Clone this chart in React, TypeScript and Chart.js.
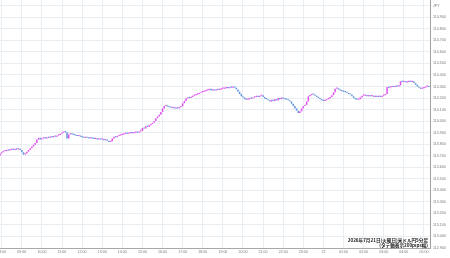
import { useEffect, useRef } from "react";
import { Chart, registerables } from "chart.js";

Chart.register(...registerables);

// time axis: minutes after 08:00 (2026-07-21), one bar = 5 minutes
const firstBarMinute = -5;
const barMinutes = 5;
const firstOpen = 113.7;

// 5-minute closes, one row per hour
const closes: number[] = [
  113.72,
  113.73, 113.74, 113.74, 113.75, 113.745, 113.75, 113.755, 113.75, 113.76, 113.755, 113.76, 113.75,
  113.73, 113.71, 113.72, 113.735, 113.75, 113.765, 113.78, 113.795, 113.81, 113.84, 113.855, 113.84,
  113.85, 113.855, 113.85, 113.86, 113.855, 113.865, 113.86, 113.87, 113.865, 113.875, 113.88, 113.89,
  113.9, 113.91, 113.905, 113.85, 113.885, 113.89, 113.885, 113.88, 113.875, 113.87, 113.875, 113.865,
  113.86, 113.855, 113.86, 113.855, 113.85, 113.855, 113.85, 113.845, 113.85, 113.84, 113.845, 113.84,
  113.845, 113.835, 113.84, 113.83, 113.82, 113.825, 113.85, 113.865, 113.86, 113.87, 113.875, 113.88,
  113.885, 113.89, 113.895, 113.89, 113.895, 113.9, 113.895, 113.9, 113.905, 113.9, 113.91, 113.915,
  113.94, 113.935, 113.955, 113.95, 113.965, 113.975, 113.985, 114.0, 114.025, 114.04, 114.055, 114.08,
  114.11, 114.13, 114.135, 114.125, 114.12, 114.115, 114.12, 114.11, 114.115, 114.11, 114.12, 114.13,
  114.155, 114.175, 114.195, 114.205, 114.2, 114.21, 114.22, 114.225, 114.23, 114.235, 114.245, 114.25,
  114.255, 114.26, 114.265, 114.27, 114.28, 114.265, 114.27, 114.265, 114.275, 114.27, 114.275, 114.28,
  114.28, 114.285, 114.29, 114.285, 114.295, 114.29, 114.295, 114.29, 114.275, 114.255, 114.235, 114.215,
  114.205, 114.19, 114.185, 114.19, 114.2, 114.195, 114.205, 114.21, 114.215, 114.21, 114.22, 114.225,
  114.21, 114.195, 114.19, 114.18, 114.17, 114.185, 114.175, 114.19, 114.18, 114.2, 114.19, 114.205,
  114.195, 114.19, 114.185, 114.18, 114.17, 114.15, 114.13, 114.11, 114.09, 114.07, 114.085, 114.11,
  114.13, 114.14, 114.17, 114.215, 114.225, 114.235, 114.23, 114.22, 114.21, 114.2, 114.19, 114.18,
  114.175, 114.18, 114.19, 114.195, 114.21, 114.225, 114.25, 114.28, 114.285, 114.275, 114.265, 114.26,
  114.255, 114.25, 114.245, 114.235, 114.23, 114.215, 114.2, 114.19, 114.185, 114.19, 114.205, 114.22,
  114.22, 114.225, 114.215, 114.22, 114.215, 114.22, 114.21, 114.215, 114.21, 114.215, 114.21, 114.22,
  114.225, 114.235, 114.295, 114.29, 114.295, 114.3, 114.295, 114.305, 114.3, 114.31, 114.345, 114.34,
  114.34, 114.335, 114.34, 114.345, 114.34, 114.345, 114.33, 114.315, 114.3, 114.29, 114.28, 114.285,
  114.29, 114.3, 114.3, 114.295,
];

const hourLabels = [
  "08:00", "09:00", "10:00", "11:00", "12:00", "13:00", "14:00", "15:00",
  "16:00", "17:00", "18:00", "19:00", "20:00", "21:00", "22:00", "23:00",
  "22", "01:00", "02:00", "03:00", "04:00", "05:00",
];

const yMin = 112.9;
const yMax = 115.05;
const yStep = 0.1;
const unitLabel = "JPY";
const noteLines = ["2026年7月21日(火曜日)米ドル円5分足", "(タテ軸表示200pips幅)"];

const UP = "#e050f0";
const DOWN = "#6394da";

export default function App() {
  const ref = useRef<HTMLCanvasElement | null>(null);

  useEffect(() => {
    document.body.style.margin = "0";
    const canvas = ref.current;
    if (!canvas) return;
    const opens = closes.map((c, i) => (i === 0 ? firstOpen : closes[i - 1]));
    const bodies = closes.map((c, i) => ({ x: firstBarMinute + i * barMinutes, y: [opens[i], c] }));
    const colors = closes.map((c, i) => (c >= opens[i] ? UP : DOWN));

    const notePlugin = {
      id: "note",
      afterDraw(chart: any) {
        const { ctx, chartArea } = chart;
        ctx.save();
        ctx.fillStyle = "#222";
        ctx.textAlign = "right";
        ctx.textBaseline = "middle";
        ctx.font = "bold 4.6px 'Noto Sans CJK JP', sans-serif";
        ctx.fillText(noteLines[0], chartArea.right - 2, 240);
        ctx.fillText(noteLines[1], chartArea.right - 2, 245);
        ctx.restore();
      },
    };

    const chart = new Chart(canvas, {
      type: "bar",
      data: {
        datasets: [
          {
            data: bodies as any,
            backgroundColor: colors,
            borderWidth: 0,
            minBarLength: 1.2,
            barPercentage: 0.9,
            categoryPercentage: 1,
          },
        ],
      },
      options: {
        animation: false,
        responsive: false,
        maintainAspectRatio: false,
        layout: { padding: 0 },
        plugins: { legend: { display: false }, tooltip: { enabled: false } },
        scales: {
          x: {
            type: "linear",
            offset: false,
            min: -5,
            max: 1278,
            grid: { color: "#e9eef3", lineWidth: 1, drawTicks: false, offset: false },
            border: { color: "#a8a8a8" },
            ticks: {
              stepSize: 60,
              includeBounds: false,
              autoSkip: false,
              maxRotation: 0,
              padding: 2,
              color: "#777",
              font: { size: 3.6, family: "Arial, 'Liberation Sans', sans-serif" },
              callback: (v: any) => hourLabels[Math.round(Number(v) / 60)] ?? "",
            },
            afterFit: (s: any) => {
              s.height = 10;
              s.paddingLeft = 0;
              s.paddingRight = 0;
            },
          },
          y: {
            position: "right",
            min: yMin,
            max: yMax,
            grid: { color: "#e9eef3", lineWidth: 1, drawTicks: false },
            border: { color: "#a0a0a0" },
            ticks: {
              stepSize: yStep,
              includeBounds: false,
              autoSkip: false,
              padding: 3,
              color: "#777",
              font: { size: 3.6, family: "Arial, 'Liberation Sans', sans-serif" },
              callback: (v: any) => {
                const n = Number(v);
                if (Math.abs(n - 115) < 1e-6) return unitLabel;
                return n.toFixed(3);
              },
            },
            afterFit: (s: any) => {
              s.width = 20;
              s.paddingTop = 0;
              s.paddingBottom = 0;
            },
          },
        },
      },
      plugins: [notePlugin],
    });
    return () => chart.destroy();
  }, []);

  return (
    <div style={{ width: 450, height: 258 }}>
      <canvas ref={ref} width={450} height={258} style={{ display: "block" }} />
    </div>
  );
}
